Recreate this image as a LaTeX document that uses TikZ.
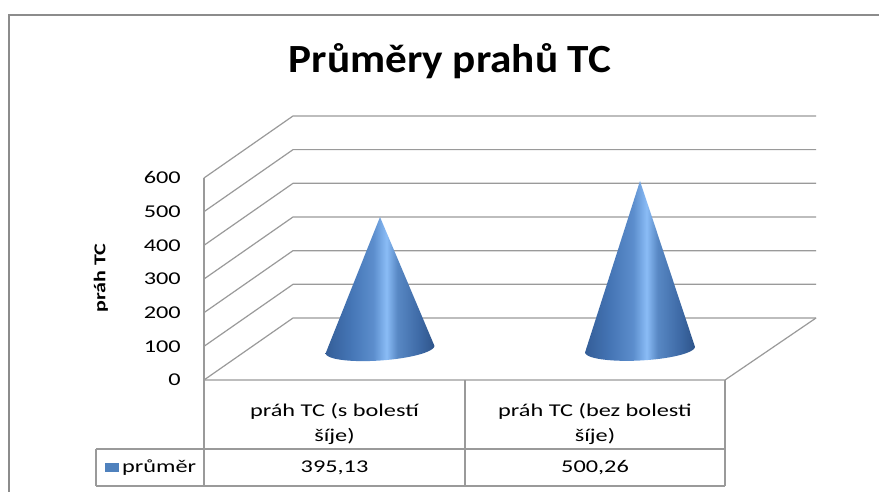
\documentclass[tikz,border=0pt]{standalone}
\usepackage{fontspec}
\setmainfont{Carlito}
\newfontfamily\widefont[FakeStretch=1.35]{Carlito}
\newfontfamily\titlefont[FakeStretch=1.08]{Carlito}
\definecolor{gridc}{HTML}{9A9A9A}
\definecolor{borderc}{HTML}{8C8C8C}
\definecolor{legblue}{HTML}{4F81BD}
\definecolor{cA}{RGB}{52,94,152}
\definecolor{cB}{RGB}{68,116,180}
\definecolor{cC}{RGB}{92,142,205}
\definecolor{cD}{RGB}{138,188,246}
\definecolor{cE}{RGB}{88,136,196}
\definecolor{cF}{RGB}{62,106,166}
\definecolor{cG}{RGB}{46,84,138}
\pgfdeclarehorizontalshading{conesh}{100bp}{color(0bp)=(cA); color(25bp)=(cA); color(36bp)=(cB); color(47bp)=(cC); color(53bp)=(cD); color(58bp)=(cE); color(68bp)=(cF); color(75bp)=(cG); color(100bp)=(cG)}
\tikzset{
  gridline/.style={draw=gridc, line width=1.2pt},
  tabline/.style={draw=gridc, line width=1.2pt},
  ticklab/.style={font=\widefont\fontsize{18}{20}\selectfont, anchor=east, inner sep=0pt},
  celltext/.style={font=\widefont\fontsize{18}{25}\selectfont, align=center, inner sep=0pt},
  conebody/.style={shading=conesh, draw=none}
}
\begin{document}
\begin{tikzpicture}[x=1pt,y=-1pt]
\useasboundingbox (0,0) rectangle (879,492);
\fill[white] (0,0) rectangle (879,492);
% outer border
\draw[draw=borderc, line width=1.6pt] (9,492) -- (9,15) -- (879,15);
% title
\node[font=\titlefont\bfseries\fontsize{40}{44}\selectfont, anchor=base, inner sep=0pt] (title) at (450,73) {Průměry prahů TC};
% y axis title
\node[inner sep=0pt] (ytitle) at (101,278) {\scalebox{0.75}[1]{\rotatebox{90}{\bfseries\fontsize{22}{24}\selectfont práh TC}}};
% grid: walls
\foreach \k in {0,...,6}{
  \coordinate (f\k) at (204,{380-33.67*\k});
  \coordinate (b\k) at (293,{318-33.67*\k});
  \coordinate (r\k) at (816,{318-33.67*\k});
  \draw[gridline] (f\k) -- (b\k) -- (r\k);
}
\draw[gridline] (f0) -- (f6);
% floor
\coordinate (fr) at (725,380);
\draw[gridline] (r0) -- (fr) -- (f0);
% tick labels
\foreach \k/\v in {0/0,1/100,2/200,3/300,4/400,5/500,6/600}{
  \node[ticklab] (t\k) at (181,{380-33.67*\k}) {\v};
}
% cones
\coordinate (apexA) at (380,217);
\coordinate (apexB) at (640,181);
\path[conebody] (apexA) -- plot[domain=180:0, samples=50, variable=\t]
  ({380 + 54.5*cos(\t)*cos(4) + 11*sin(\t)*sin(4)}, {349.5 - 54.5*cos(\t)*sin(4) + 11*sin(\t)*cos(4)}) -- cycle;
\path[conebody] (apexB) -- plot[domain=180:0, samples=50, variable=\t]
  ({640 + 55*cos(\t)*cos(3) + 11*sin(\t)*sin(3)}, {349.5 - 55*cos(\t)*sin(3) + 11*sin(\t)*cos(3)}) -- cycle;
% data table
\coordinate (tl) at (204,380);
\coordinate (tm) at (465,380);
\coordinate (tr) at (725,380);
\coordinate (rl) at (96,449);
\coordinate (rr) at (725,449);
\coordinate (bl) at (96,486);
\coordinate (br) at (725,486);
\draw[tabline] (tl) -- (204,486);
\draw[tabline] (tm) -- (465,486);
\draw[tabline] (tr) -- (br);
\draw[tabline] (rl) -- (rr);
\draw[tabline] (bl) -- (br);
\draw[tabline] (rl) -- (bl);
\node[celltext] (c1) at (334.5,424) {práh TC (s bolestí\\šíje)};
\node[celltext] (c2) at (595,424) {práh TC (bez bolesti\\šíje)};
\node[celltext] (v1) at (334.5,467.5) {395,13};
\node[celltext] (v2) at (595,467.5) {500,26};
\fill[legblue] (105,463) rectangle (119,472);
\node[celltext, anchor=west] (leg) at (122,467.5) {průměr};
\end{tikzpicture}
\end{document}
